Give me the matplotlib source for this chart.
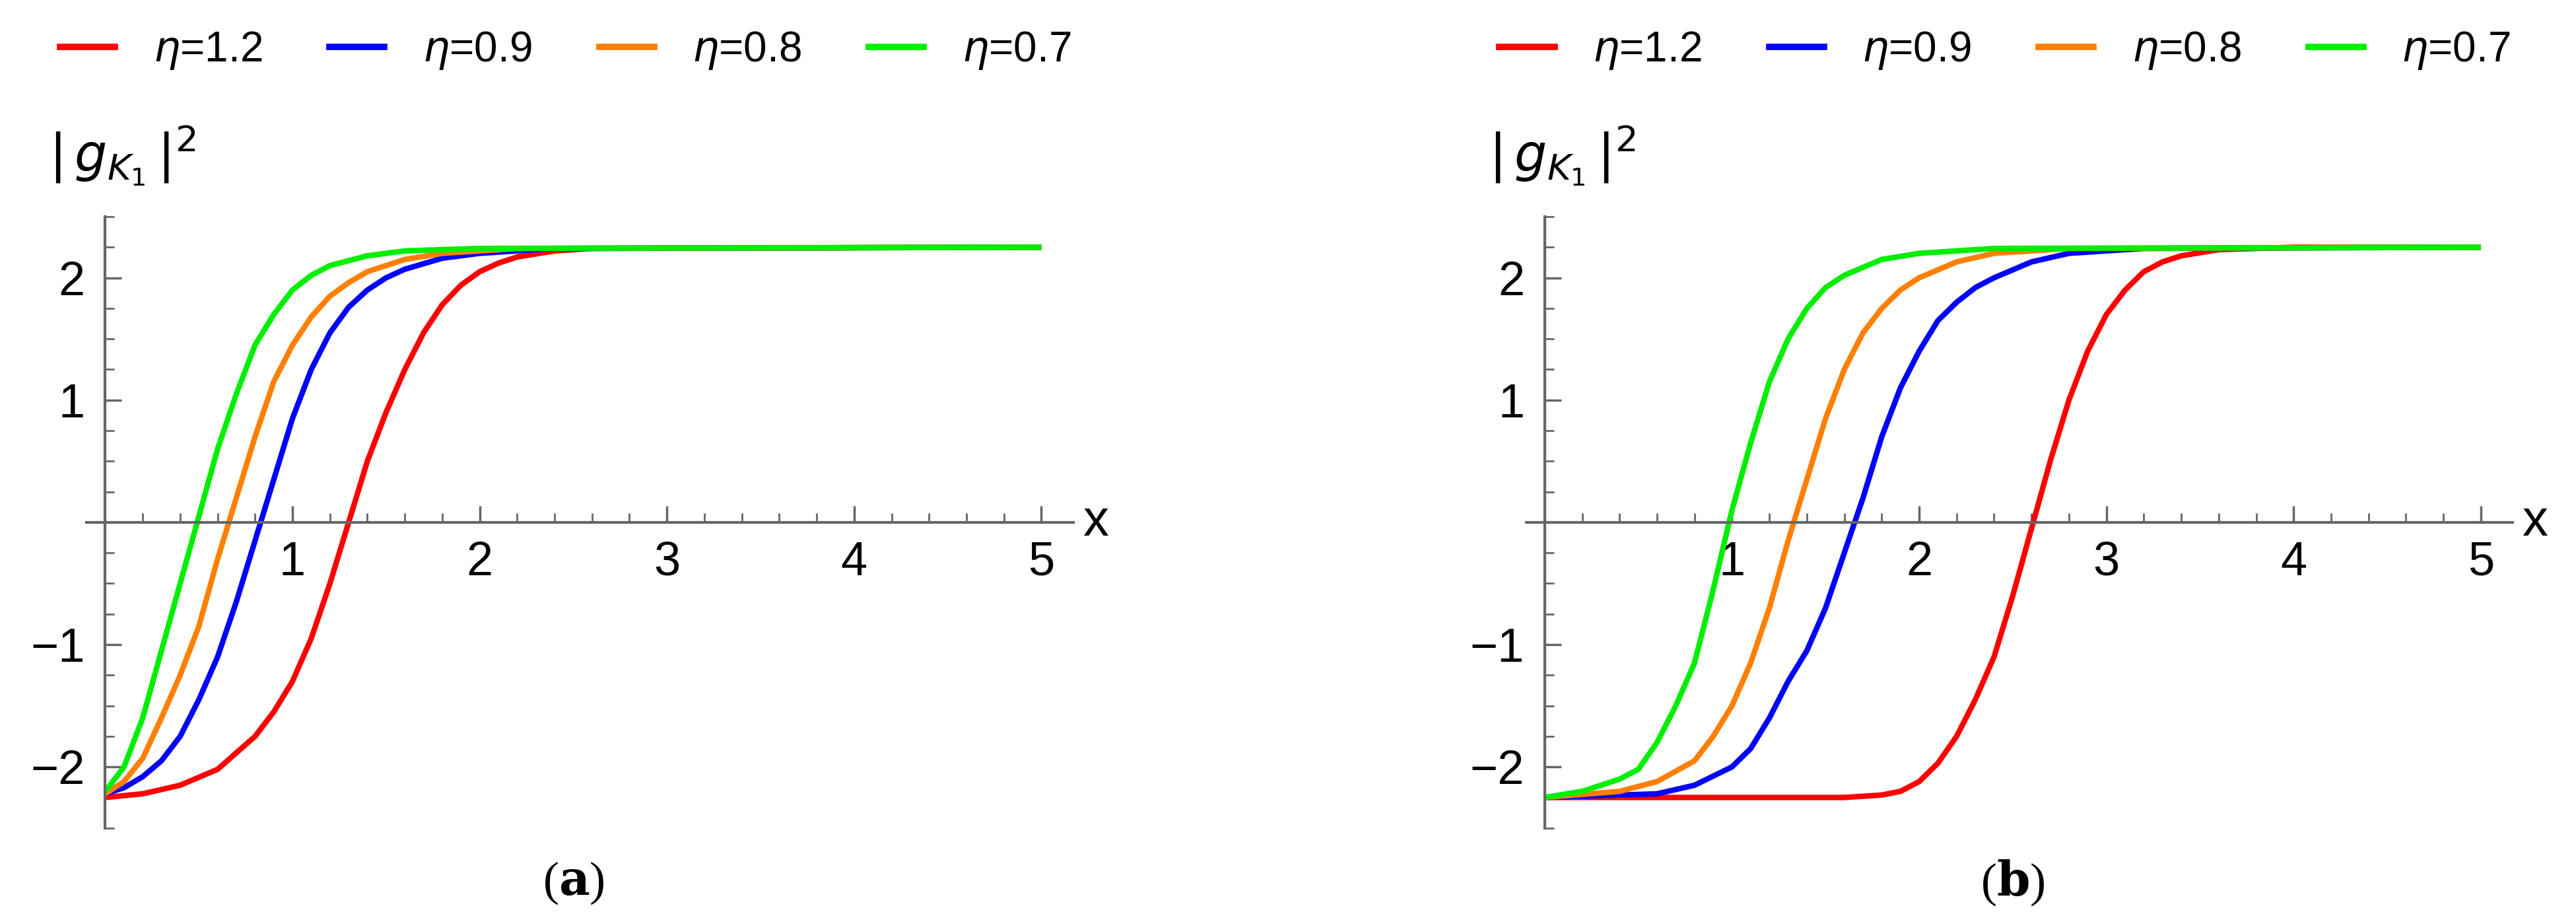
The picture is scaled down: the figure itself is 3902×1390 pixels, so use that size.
import matplotlib.pyplot as plt
from matplotlib.lines import Line2D
from matplotlib.ticker import MultipleLocator

plt.rcParams['font.family'] = ['Liberation Sans', 'DejaVu Sans']
plt.rcParams['mathtext.fontset'] = 'dejavusans'

labels = ['$\\eta$=1.2', '$\\eta$=0.9', '$\\eta$=0.8', '$\\eta$=0.7']
colors = ['#ff0000', '#0000ff', '#ff8000', '#00ee00']

# panel (a): points, (x, |g|^2)
a_red = [(0, -2.25), (0.2, -2.22), (0.4, -2.15), (0.6, -2.02), (0.8, -1.75), (0.9, -1.55), (1.0, -1.3),
         (1.1, -0.95), (1.2, -0.5), (1.3, 0.0), (1.4, 0.5), (1.5, 0.9), (1.6, 1.25), (1.7, 1.55), (1.8, 1.78),
         (1.9, 1.94), (2.0, 2.05), (2.1, 2.12), (2.2, 2.17), (2.4, 2.22), (2.6, 2.24), (5, 2.25)]
a_blue = [(0, -2.22), (0.1, -2.17), (0.2, -2.08), (0.3, -1.95), (0.4, -1.75), (0.5, -1.45), (0.6, -1.1),
          (0.7, -0.65), (0.8, -0.15), (0.9, 0.35), (1.0, 0.85), (1.1, 1.25), (1.2, 1.55), (1.3, 1.76),
          (1.4, 1.9), (1.5, 2.0), (1.6, 2.07), (1.8, 2.16), (2.0, 2.2), (2.4, 2.24), (5, 2.25)]
a_orange = [(0, -2.22), (0.1, -2.12), (0.2, -1.93), (0.3, -1.6), (0.4, -1.25), (0.5, -0.85), (0.6, -0.3),
            (0.7, 0.2), (0.8, 0.7), (0.9, 1.15), (1.0, 1.45), (1.1, 1.68), (1.2, 1.85), (1.3, 1.96),
            (1.4, 2.05), (1.6, 2.15), (1.8, 2.2), (2.2, 2.24), (5, 2.25)]
a_green = [(0, -2.2), (0.1, -2.0), (0.2, -1.6), (0.3, -1.05), (0.4, -0.5), (0.5, 0.05), (0.6, 0.6),
           (0.7, 1.05), (0.8, 1.45), (0.9, 1.7), (1.0, 1.9), (1.1, 2.02), (1.2, 2.1), (1.4, 2.18),
           (1.6, 2.22), (2.0, 2.24), (5, 2.25)]

# panel (b)
b_red = [(0, -2.25), (1.6, -2.25), (1.8, -2.23), (1.9, -2.2), (2.0, -2.12), (2.1, -1.97), (2.2, -1.75),
         (2.3, -1.45), (2.4, -1.1), (2.5, -0.6), (2.6, -0.05), (2.7, 0.5), (2.8, 1.0), (2.9, 1.4),
         (3.0, 1.7), (3.1, 1.9), (3.2, 2.05), (3.3, 2.13), (3.4, 2.18), (3.6, 2.23), (4.0, 2.25), (5, 2.25)]
b_blue = [(0, -2.25), (0.6, -2.22), (0.8, -2.15), (1.0, -2.0), (1.1, -1.85), (1.2, -1.6), (1.3, -1.3),
          (1.4, -1.05), (1.5, -0.7), (1.6, -0.25), (1.7, 0.2), (1.8, 0.7), (1.9, 1.1), (2.0, 1.4),
          (2.1, 1.65), (2.2, 1.8), (2.3, 1.92), (2.4, 2.0), (2.6, 2.13), (2.8, 2.2), (3.2, 2.24), (5, 2.25)]
b_orange = [(0, -2.25), (0.4, -2.2), (0.6, -2.12), (0.8, -1.95), (0.9, -1.75), (1.0, -1.5), (1.1, -1.15),
            (1.2, -0.7), (1.3, -0.15), (1.4, 0.35), (1.5, 0.85), (1.6, 1.25), (1.7, 1.55), (1.8, 1.75),
            (1.9, 1.9), (2.0, 2.0), (2.2, 2.13), (2.4, 2.2), (2.8, 2.24), (5, 2.25)]
b_green = [(0, -2.25), (0.2, -2.2), (0.4, -2.1), (0.5, -2.02), (0.6, -1.8), (0.7, -1.5), (0.8, -1.15),
           (0.9, -0.55), (1.0, 0.1), (1.1, 0.65), (1.2, 1.15), (1.3, 1.5), (1.4, 1.75), (1.5, 1.92),
           (1.6, 2.02), (1.8, 2.15), (2.0, 2.2), (2.4, 2.24), (5, 2.25)]

panels = [('a', [a_red, a_blue, a_orange, a_green]), ('b', [b_red, b_blue, b_orange, b_green])]
axis_grey = '#666666'

fig = plt.figure(figsize=(39.02, 13.90), dpi=100)
lefts = [0.0336, 0.5924]

for left, (tag, curves) in zip(lefts, panels):
    ax = fig.add_axes([left, 0.098, 0.383, 0.666])
    for pts, c in zip(curves, colors):
        xs = [p[0] for p in pts]
        ys = [p[1] for p in pts]
        ax.plot(xs, ys, color=c, lw=6, solid_capstyle='butt', solid_joinstyle='round')
    ax.set_xlim(-0.1, 5.17)
    ax.set_ylim(-2.5, 2.5)
    for s in ['top', 'right']:
        ax.spines[s].set_visible(False)
    ax.spines['left'].set_position(('data', 0))
    ax.spines['bottom'].set_position(('data', 0))
    for s in ['left', 'bottom']:
        ax.spines[s].set_color(axis_grey)
        ax.spines[s].set_linewidth(3)
    ax.set_xticks([1, 2, 3, 4, 5])
    ax.set_yticks([-2, -1, 1, 2])
    ax.xaxis.set_minor_locator(MultipleLocator(0.2))
    ax.yaxis.set_minor_locator(MultipleLocator(0.25))
    ax.tick_params(axis='x', which='major', direction='in', length=18, width=2.5, color=axis_grey,
                   labelsize=52, pad=20)
    ax.tick_params(axis='y', which='major', direction='in', length=18, width=2.5, color=axis_grey,
                   labelsize=52, pad=22)
    ax.tick_params(which='minor', direction='in', length=10, width=2, color=axis_grey)
    ax.text(5.22, 0, 'x', fontsize=56, va='center', ha='left')
    ax.text(-0.3, 3.0, r'$|\,g_{K_1}\,|^2$', fontsize=56, va='center', ha='left')
    ax.text(2.5, -2.95, '($\\mathbf{' + tag + '}$)', fontsize=52, ha='center', va='center',
            family='Liberation Serif', math_fontfamily='dejavuserif')

    handles = [Line2D([], [], color=c, lw=7) for c in colors]
    fig.legend(handles, labels, loc='center left', bbox_to_anchor=(left - 0.025, 0.945), ncol=4,
               frameon=False, fontsize=46, handlelength=1.3, handletextpad=0.9, columnspacing=1.6)

fig.savefig('out.png', dpi=100)
